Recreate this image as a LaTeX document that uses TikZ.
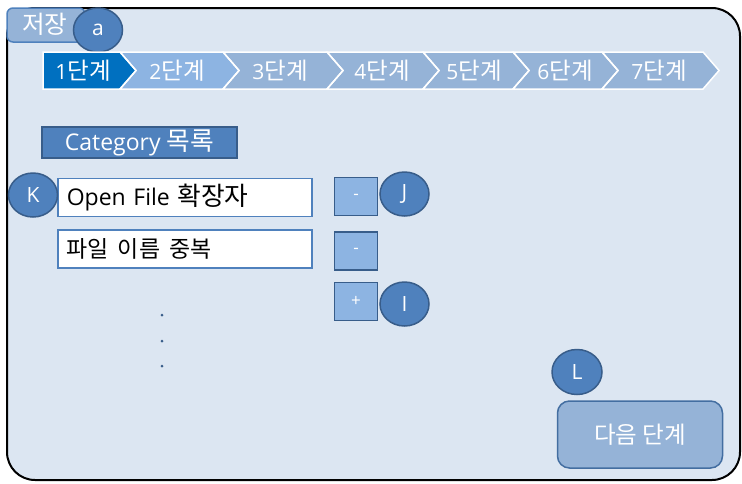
\documentclass[tikz,border=0pt]{standalone}
\usepackage{fontspec}
\setmainfont{Open Sans}
\newfontfamily\kr{Noto Sans CJK KR}[Scale=1.12]
\usetikzlibrary{shapes.geometric}
\definecolor{bgc}{HTML}{DCE6F2}
\definecolor{midblue}{HTML}{4F81BD}
\definecolor{edgeblue}{HTML}{385D8A}
\definecolor{paleblue}{HTML}{95B3D7}
\definecolor{lightblue}{HTML}{8DB4E2}
\definecolor{strongblue}{HTML}{0070C0}
\tikzset{
  marker/.style={ellipse, fill=midblue, draw=edgeblue, line width=1.5pt, text=white,
    minimum width=49pt, minimum height=44pt, inner sep=0pt, font=\fontsize{21}{21}\selectfont},
  chev/.style={draw=white, line width=1.5pt, line join=miter},
  chevlabel/.style={text=white, font=\fontsize{21}{21}\selectfont, inner sep=0pt},
  field/.style={draw=midblue, fill=white, line width=1.5pt, minimum height=38pt,
    text width=236pt, inner xsep=9pt, align=left, font=\fontsize{23}{23}\selectfont, anchor=west},
  pmbutton/.style={draw=edgeblue, fill=lightblue, line width=1.5pt, minimum width=43pt,
    minimum height=38pt, text=white, inner sep=0pt, font=\fontsize{17}{17}\selectfont},
  dotmark/.style={circle, fill=edgeblue, inner sep=0pt, minimum size=3pt},
}
\begin{document}
\begin{tikzpicture}[x=1pt,y=-1pt]
\useasboundingbox (0,0) rectangle (742,483);
% outer frame
\draw[line width=2pt, fill=bgc, rounded corners=28pt] (7,8) rectangle (740,480);
% save tab
\draw[fill=paleblue, draw=midblue, line width=1.5pt, rounded corners=6pt] (7,8) rectangle (85,42);
\node[text=white, font=\kr\fontsize{22}{22}\selectfont, inner sep=0pt] (save) at (45,24) {저장};
\node[marker] (ma) at (98,30) {a};
% chevrons
\def\d{16}
\fill[strongblue] (43,52) -- (120,52) -- (136,70.5) -- (120,89) -- (43,89) -- cycle;
\foreach \a/\b/\c in {120/223/lightblue, 223/327/paleblue, 327/423/paleblue, 423/513/paleblue, 513/602/paleblue, 602/703/paleblue}{
  \fill[\c] (\a,52) -- (\b,52) -- (\b+\d,70.5) -- (\b,89) -- (\a,89) -- (\a+\d,70.5) -- cycle;
}
\draw[chev] (43,52) -- (120,52) -- (136,70.5) -- (120,89) -- (43,89) -- cycle;
\foreach \a/\b in {120/223, 223/327, 327/423, 423/513, 513/602, 602/703}{
  \draw[chev] (\a,52) -- (\b,52) -- (\b+\d,70.5) -- (\b,89) -- (\a,89) -- (\a+\d,70.5) -- cycle;
}
\node[chevlabel] (s1) at (83,71) {1{\kr 단계}};
\node[chevlabel] (s2) at (177,71) {2{\kr 단계}};
\node[chevlabel] (s3) at (280,71) {3{\kr 단계}};
\node[chevlabel] (s4) at (382,71) {4{\kr 단계}};
\node[chevlabel] (s5) at (474,71) {5{\kr 단계}};
\node[chevlabel] (s6) at (565,71) {6{\kr 단계}};
\node[chevlabel] (s7) at (659,71) {7{\kr 단계}};
% category header
\node[draw=edgeblue, fill=midblue, line width=1.5pt, minimum width=195pt, minimum height=31pt,
  inner sep=0pt, text=white, font=\fontsize{23}{23}\selectfont] (cat) at (139.5,142.5) {Category {\kr 목록}};
% fields
\node[field] (f1) at (57,197.5) {Open File {\kr 확장자}};
\node[field, font=\fontsize{20.5}{20.5}\selectfont] (f2) at (57,249) {\kr 파일\hspace{9pt}이름\hspace{9pt}중복};
\node[marker] (mk) at (33,195) {K};
% buttons
\node[pmbutton] (b1) at (356,196.5) {-};
\node[pmbutton] (b2) at (356,251) {-};
\node[pmbutton] (b3) at (356,301.5) {+};
\node[marker] (mj) at (404.5,194) {J};
\node[marker] (mi) at (404.5,304) {I};
% dots
\node[dotmark] (d1) at (162,315) {};
\node[dotmark] (d2) at (162,341) {};
\node[dotmark] (d3) at (162,366) {};
% next button
\node[draw=midblue!85!black, fill=paleblue, line width=1.5pt, rounded corners=12pt,
  minimum width=165pt, minimum height=67pt, text=white, font=\kr\fontsize{21}{21}\selectfont] (next) at (640,434.5) {다음 단계};
\node[marker, minimum width=50pt, minimum height=45pt] (ml) at (577,372) {L};
\end{tikzpicture}
\end{document}
